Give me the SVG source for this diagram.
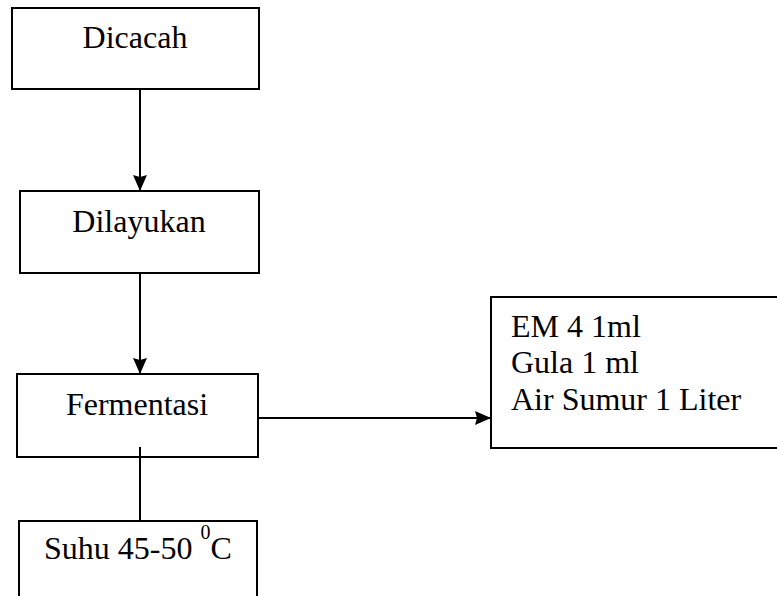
<svg xmlns="http://www.w3.org/2000/svg" width="777" height="596" viewBox="0 0 777 596">
<style>
.box{fill:#fff;stroke:#000;stroke-width:2}
.t{font-family:'Liberation Serif','DejaVu Serif',serif;font-size:32px;fill:#000}
.c{stroke:#000;stroke-width:2;fill:none}
</style>
<defs>
<marker id="ah" markerUnits="userSpaceOnUse" markerWidth="17" markerHeight="16" viewBox="0 0 17 16" refX="16" refY="8" orient="auto">
<path d="M0,1 L16,8 L0,15 L2,8 Z" fill="#000"/>
</marker>
</defs>
<rect width="777" height="596" fill="#fff"/>
<g id="dicacah">
<rect class="box" x="12" y="8" width="247" height="81"/>
<text class="t" x="135" y="48" text-anchor="middle">Dicacah</text>
</g>
<g id="dilayukan">
<rect class="box" x="20" y="191" width="239" height="82"/>
<text class="t" x="139" y="232" text-anchor="middle">Dilayukan</text>
</g>
<g id="fermentasi">
<rect class="box" x="17" y="374" width="241" height="83"/>
<text class="t" x="137" y="415" text-anchor="middle">Fermentasi</text>
</g>
<g id="suhu">
<rect class="box" x="19" y="521" width="238" height="90"/>
<text class="t" x="44" y="559">Suhu 45-50 <tspan font-size="20" dy="-20">0</tspan><tspan dy="20">C</tspan></text>
</g>
<g id="bahan">
<rect class="box" x="491" y="297" width="292" height="151"/>
<text class="t" x="511" y="337">EM 4 1ml</text>
<text class="t" x="511" y="373">Gula 1 ml</text>
<text class="t" x="511" y="410">Air Sumur 1 Liter</text>
</g>
<g id="connectors">
<line class="c" x1="140" y1="89" x2="140" y2="191" marker-end="url(#ah)"/>
<line class="c" x1="140" y1="273" x2="140" y2="374" marker-end="url(#ah)"/>
<line class="c" x1="258" y1="418" x2="491" y2="418" marker-end="url(#ah)"/>
<line class="c" x1="140" y1="447" x2="140" y2="521"/>
</g>
</svg>
